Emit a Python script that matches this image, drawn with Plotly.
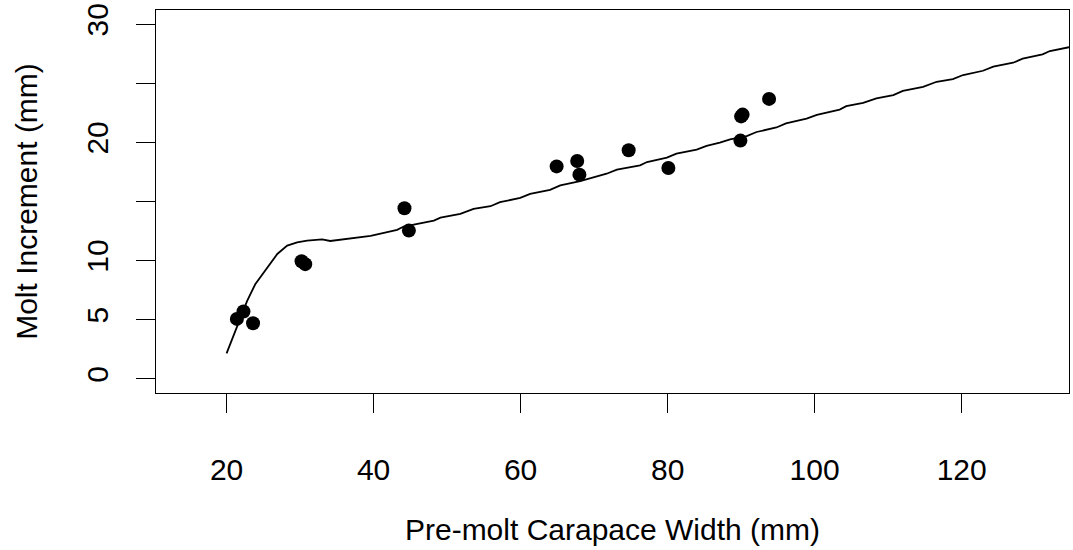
import plotly.graph_objects as go

# Observed molt data (pre-molt carapace width vs molt increment)
width_obs = [21.4, 22.3, 23.6, 30.2, 30.7, 44.2, 44.8, 64.9, 67.7, 68.0, 74.7, 80.1, 90.0, 90.2, 89.9, 93.8]
incr_obs = [5.07, 5.7, 4.7, 9.95, 9.7, 14.43, 12.54, 17.97, 18.42, 17.27, 19.33, 17.83, 22.2, 22.35, 20.15, 23.68]

# Fitted curve
width_fit = [20.0, 21.45, 22.8, 23.9, 25.5, 26.9, 28.25, 29.6, 30.96, 33.0, 34.1, 35.9, 37.8, 39.6,
             41.4, 43.2, 44.1, 46.4, 48.2, 49.1, 51.8, 53.6, 55.9, 57.2, 59.95, 61.3, 64.0, 65.4,
             68.1, 71.7, 73.1, 76.25, 77.2, 79.9, 81.2, 83.95, 85.3, 87.1, 88.5, 90.75, 92.1, 94.8,
             96.1, 98.9, 100.3, 103.4, 104.3, 106.6, 108.4, 110.7, 112.0, 114.75, 116.6, 118.8,
             120.2, 122.9, 124.3, 127.0, 128.3, 131.0, 132.0, 134.6]
incr_fit = [2.15, 4.47, 6.6, 8.0, 9.42, 10.56, 11.27, 11.55, 11.69, 11.8, 11.66, 11.8, 11.92, 12.1,
            12.34, 12.6, 12.88, 13.19, 13.39, 13.64, 13.96, 14.38, 14.6, 14.94, 15.31, 15.65, 15.99,
            16.36, 16.72, 17.35, 17.69, 18.06, 18.34, 18.71, 19.05, 19.39, 19.7, 19.98, 20.26, 20.54,
            20.88, 21.26, 21.6, 22.02, 22.33, 22.78, 23.06, 23.34, 23.72, 24.0, 24.36, 24.7, 25.13,
            25.36, 25.7, 26.06, 26.4, 26.74, 27.08, 27.45, 27.73, 28.05]

x_ticks = [20, 40, 60, 80, 100, 120]
y_ticks = [0, 5, 10, 15, 20, 25, 30]
y_ticktext = ["0", "5", "10", "", "20", "", "30"]

FONT = "Liberation Sans, Arial, Helvetica, sans-serif"

fig = go.Figure()
fig.add_trace(go.Scatter(x=width_fit, y=incr_fit, mode="lines",
                         line=dict(color="black", width=1.8), showlegend=False))
fig.add_trace(go.Scatter(x=width_obs, y=incr_obs, mode="markers",
                         marker=dict(color="black", size=14, line=dict(width=0)),
                         showlegend=False))

fig.update_layout(
    width=1073, height=550,
    margin=dict(l=156, r=4, t=10, b=157, pad=0),
    plot_bgcolor="white", paper_bgcolor="white",
    font=dict(family=FONT, size=30, color="black"),
    xaxis=dict(
        range=[10.4, 134.6], tickvals=x_ticks, ticks="outside", ticklen=19, tickwidth=1.3,
        tickcolor="black", showline=True, linecolor="black", linewidth=1.3, mirror=True,
        showgrid=False, zeroline=False, ticklabelstandoff=31, automargin=False,
        title=dict(text="Pre-molt Carapace Width (mm)", standoff=33, font=dict(size=30)),
    ),
    yaxis=dict(
        range=[-1.2, 31.2], tickvals=y_ticks, ticktext=y_ticktext, tickangle=-90,
        ticks="outside", ticklen=19, tickwidth=1.3, tickcolor="black",
        showline=True, linecolor="black", linewidth=1.3, mirror=True,
        showgrid=False, zeroline=False, ticklabelstandoff=16, automargin=False,
        title=dict(text="Molt Increment (mm)", standoff=34, font=dict(size=30)),
    ),
)

fig.write_html("out.html",
               config={"displayModeBar": False},
               post_script="document.body.style.margin='0';document.body.style.overflow='hidden';")
